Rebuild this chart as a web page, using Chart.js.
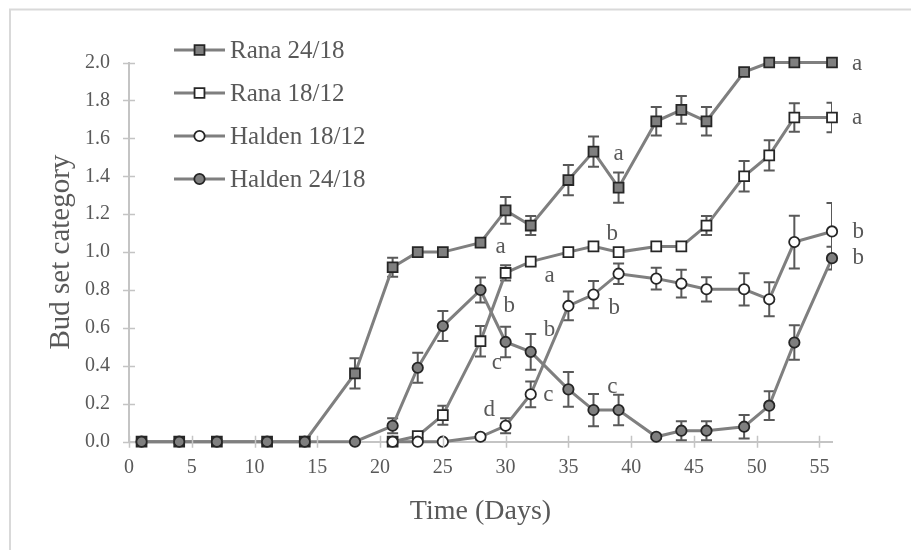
<!DOCTYPE html>
<html>
<head>
<meta charset="utf-8">
<script src="https://cdn.jsdelivr.net/npm/chart.js@4.4.1/dist/chart.umd.min.js"></script>
<style>
html,body{margin:0;padding:0;background:#fff;}
#wrap{width:911px;height:550px;position:relative;}
</style>
</head>
<body>
<div id="wrap"><canvas id="c" width="911" height="550"></canvas></div>
<script>
// ---------------- data ----------------
const days = [1, 4, 7, 11, 14, 18, 21, 23, 25, 28, 30, 32, 35, 37, 39, 42, 44, 46, 49, 51, 53, 56];

const seriesNames = ['Rana 24/18', 'Rana 18/12', 'Halden 18/12', 'Halden 24/18'];

const rana2418    = [0, 0, 0, 0, 0, 0.36, 0.92, 1.00, 1.00, 1.05, 1.22, 1.14, 1.38, 1.53, 1.34, 1.69, 1.75, 1.69, 1.95, 2.00, 2.00, 2.00];
const rana2418Err = [0, 0, 0, 0, 0, 0.08, 0.05, 0, 0, 0.02, 0.07, 0.05, 0.08, 0.08, 0.08, 0.075, 0.073, 0.075, 0.02, 0, 0, 0];

const rana1812    = [null, null, null, null, null, null, 0, 0.03, 0.14, 0.53, 0.89, 0.95, 1.00, 1.03, 1.00, 1.03, 1.03, 1.14, 1.40, 1.51, 1.71, 1.71];
const rana1812Err = [0, 0, 0, 0, 0, 0, 0, 0.01, 0.05, 0.08, 0.04, 0.02, 0, 0, 0, 0, 0, 0.05, 0.08, 0.08, 0.075, 0.078];

const halden1812    = [null, null, null, null, null, null, 0, 0, 0, 0.026, 0.084, 0.25, 0.716, 0.776, 0.886, 0.86, 0.834, 0.804, 0.804, 0.751, 1.053, 1.109];
const halden1812Err = [0, 0, 0, 0, 0, 0, 0, 0, 0, 0.015, 0.04, 0.068, 0.076, 0.072, 0.054, 0.057, 0.073, 0.064, 0.085, 0.09, 0.139, 0.15];

const halden2418    = [0, 0, 0, 0, 0, 0, 0.084, 0.39, 0.61, 0.80, 0.526, 0.474, 0.276, 0.167, 0.167, 0.026, 0.058, 0.058, 0.079, 0.19, 0.523, 0.968];
const halden2418Err = [0, 0, 0, 0, 0, 0, 0.04, 0.079, 0.079, 0.066, 0.08, 0.094, 0.092, 0.085, 0.08, 0.01, 0.05, 0.05, 0.062, 0.076, 0.091, 0.06];

const xTickValues = [0, 5, 10, 15, 20, 25, 30, 35, 40, 45, 50, 55];
const yTickValues = [0, 0.2, 0.4, 0.6, 0.8, 1.0, 1.2, 1.4, 1.6, 1.8, 2.0];

// significance letters (text, day, value)
const letterText = ['a', 'a', 'b', 'b', 'a', 'a', 'a', 'b', 'c', 'b', 'c', 'd', 'b', 'b', 'c'];
const letterDay  = [58.0, 58.0, 58.1, 58.1, 39.0, 29.6, 33.5, 30.3, 29.3, 33.5, 33.4, 28.7, 38.5, 38.65, 38.5];
const letterVal  = [1.99, 1.706, 1.108, 0.967, 1.517, 1.025, 0.876, 0.717, 0.413, 0.589, 0.246, 0.167, 1.094, 0.704, 0.29];

// ---------------- styling ----------------
const SERIF = '"Liberation Serif", "Times New Roman", serif';
const TEXT = '#595959';
const LINE = '#7f7f7f';
const EDGE = '#262626';
const AXIS = '#c4c4c4';

const seriesValues = [rana2418, rana1812, halden1812, halden2418];
const seriesErrors = [rana2418Err, rana1812Err, halden1812Err, halden2418Err];
const seriesShape = ['rect', 'rect', 'circle', 'circle'];
const seriesFill = [LINE, '#ffffff', '#ffffff', LINE];

function pts(vals) {
  const out = [];
  for (let i = 0; i < days.length; i++) {
    if (vals[i] !== null) out.push({x: days[i], y: vals[i]});
  }
  return out;
}

const datasets = seriesNames.map((name, i) => ({
  label: name,
  data: pts(seriesValues[i]),
  borderColor: LINE,
  borderWidth: 3,
  pointStyle: seriesShape[i],
  pointRadius: seriesShape[i] === 'rect' ? 7 : 5.2,
  pointBackgroundColor: seriesFill[i],
  pointBorderColor: EDGE,
  pointBorderWidth: 1.8,
  tension: 0,
  clip: false,
  order: 3 - i,
  errIndex: i
}));

function drawMarker(ctx, shape, x, y, fill) {
  ctx.save();
  ctx.fillStyle = fill;
  ctx.strokeStyle = EDGE;
  ctx.lineWidth = 1.8;
  ctx.beginPath();
  if (shape === 'rect') {
    const s = 7 * Math.SQRT1_2;
    ctx.rect(x - s, y - s, 2 * s, 2 * s);
  } else {
    ctx.arc(x, y, 5.2, 0, Math.PI * 2);
  }
  ctx.fill();
  ctx.stroke();
  ctx.restore();
}

const bgPlugin = {
  id: 'bg',
  beforeDraw(chart) {
    const ctx = chart.ctx;
    ctx.save();
    ctx.fillStyle = '#ffffff';
    ctx.fillRect(0, 0, chart.width, chart.height);
    ctx.strokeStyle = '#d9d9d9';
    ctx.lineWidth = 2;
    ctx.beginPath();
    ctx.moveTo(10, 550);
    ctx.lineTo(10, 9.5);
    ctx.lineTo(911, 9.5);
    ctx.stroke();
    ctx.restore();
  }
};

const crossTicks = {
  id: 'crossTicks',
  afterDraw(chart) {
    const {ctx, chartArea, scales} = chart;
    ctx.save();
    ctx.strokeStyle = AXIS;
    ctx.lineWidth = 1.5;
    ctx.beginPath();
    xTickValues.forEach(v => {
      const px = Math.round(scales.x.getPixelForValue(v)) + 0.5;
      ctx.moveTo(px, chartArea.bottom - 6);
      ctx.lineTo(px, chartArea.bottom + 6);
    });
    yTickValues.forEach(v => {
      const py = Math.round(scales.y.getPixelForValue(v)) + 0.5;
      ctx.moveTo(chartArea.left - 6, py);
      ctx.lineTo(chartArea.left + 6, py);
    });
    ctx.stroke();
    ctx.restore();
  }
};

const errorBars = {
  id: 'errorBars',
  beforeDatasetDraw(chart, args) {
    const ds = chart.data.datasets[args.index];
    const vals = seriesValues[ds.errIndex];
    const errs = seriesErrors[ds.errIndex];
    const {ctx, chartArea, scales} = chart;
    ctx.save();
    ctx.beginPath();
    ctx.rect(chartArea.left, 0, chartArea.right - chartArea.left, chart.height);
    ctx.clip();
    ctx.strokeStyle = '#595959';
    ctx.lineWidth = 2;
    ctx.beginPath();
    for (let i = 0; i < days.length; i++) {
      if (vals[i] === null || !errs[i]) continue;
      const x = scales.x.getPixelForValue(days[i]);
      const yt = scales.y.getPixelForValue(vals[i] + errs[i]);
      const yb = scales.y.getPixelForValue(vals[i] - errs[i]);
      ctx.moveTo(x, yt); ctx.lineTo(x, yb);
      ctx.moveTo(x - 5.5, yt); ctx.lineTo(x + 5.5, yt);
      ctx.moveTo(x - 5.5, yb); ctx.lineTo(x + 5.5, yb);
    }
    ctx.stroke();
    ctx.restore();
  }
};

const letters = {
  id: 'letters',
  afterDatasetsDraw(chart) {
    const {ctx, scales} = chart;
    ctx.save();
    ctx.font = '23px ' + SERIF;
    ctx.fillStyle = TEXT;
    ctx.textAlign = 'center';
    ctx.textBaseline = 'middle';
    for (let k = 0; k < letterText.length; k++) {
      ctx.fillText(letterText[k], scales.x.getPixelForValue(letterDay[k]), scales.y.getPixelForValue(letterVal[k]));
    }
    ctx.restore();
  }
};

const legendBox = {
  id: 'legendBox',
  afterDraw(chart) {
    const ctx = chart.ctx;
    ctx.save();
    ctx.font = '25px ' + SERIF;
    ctx.textAlign = 'left';
    ctx.textBaseline = 'middle';
    seriesNames.forEach((name, i) => {
      const y = 50 + i * 43;
      ctx.strokeStyle = LINE;
      ctx.lineWidth = 3;
      ctx.beginPath();
      ctx.moveTo(174, y); ctx.lineTo(225, y);
      ctx.stroke();
      drawMarker(ctx, seriesShape[i], 199.5, y, seriesFill[i]);
      ctx.fillStyle = TEXT;
      ctx.fillText(name, 230, y + 1);
    });
    ctx.restore();
  }
};

new Chart(document.getElementById('c'), {
  type: 'line',
  data: {datasets},
  options: {
    responsive: false,
    animation: false,
    devicePixelRatio: 1,
    events: [],
    layout: {padding: {left: 0, top: 62.5, right: 79, bottom: 0}},
    plugins: {legend: {display: false}, tooltip: {enabled: false}},
    scales: {
      x: {
        type: 'linear',
        min: 0, max: 56,
        afterBuildTicks(s) { s.ticks = xTickValues.map(v => ({value: v})); },
        afterFit(s) { s.height = 550 - 441.7; },
        grid: {display: true, drawOnChartArea: false, drawTicks: false},
        border: {display: true, color: AXIS, width: 2},
        ticks: {color: TEXT, font: {family: SERIF, size: 20}, padding: 14, maxRotation: 0},
        title: {display: true, text: 'Time (Days)', color: TEXT, font: {family: SERIF, size: 28}, padding: {top: 0, bottom: 22}}
      },
      y: {
        type: 'linear',
        min: 0, max: 2,
        afterBuildTicks(s) { s.ticks = yTickValues.map(v => ({value: v})); },
        afterFit(s) { s.width = 129; },
        grid: {display: true, drawOnChartArea: false, drawTicks: false},
        border: {display: true, color: AXIS, width: 2},
        ticks: {color: TEXT, font: {family: SERIF, size: 20}, padding: 19, callback: v => Number(v).toFixed(1)},
        title: {display: true, text: 'Bud set category', color: TEXT, font: {family: SERIF, size: 29}, padding: {top: 44, bottom: 0}}
      }
    }
  },
  plugins: [bgPlugin, errorBars, letters, crossTicks, legendBox]
});
</script>
</body>
</html>
